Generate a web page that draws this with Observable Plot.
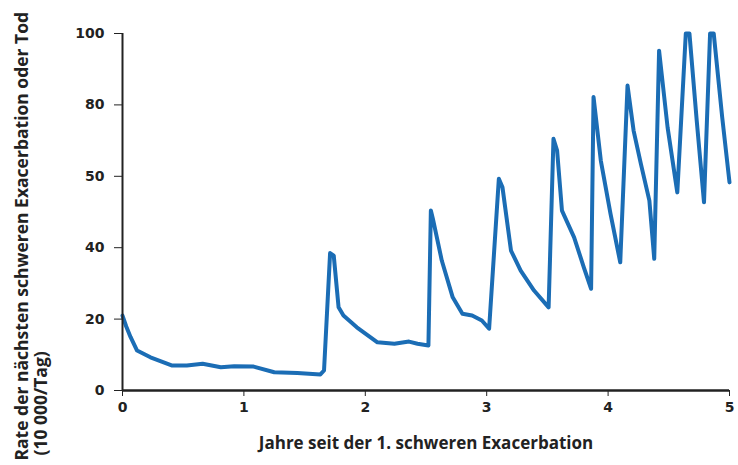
<!DOCTYPE html>
<html><head><meta charset="utf-8">
<script src="https://cdn.jsdelivr.net/npm/d3@7"></script>
<script src="https://cdn.jsdelivr.net/npm/@observablehq/plot@0.6"></script>
</head><body style="margin:0;background:#fff"><div id="chart"></div>
<script>
const years = [0.00,0.03,0.066,0.12,0.23,0.41,0.53,0.66,0.81,0.92,1.08,1.25,1.44,1.63,1.66,1.71,1.74,1.78,1.82,1.93,2.10,2.24,2.36,2.43,2.52,2.54,2.56,2.63,2.72,2.80,2.88,2.96,3.02,3.10,3.13,3.20,3.28,3.39,3.51,3.55,3.58,3.62,3.72,3.80,3.86,3.88,3.94,4.02,4.10,4.16,4.21,4.27,4.34,4.38,4.42,4.49,4.57,4.64,4.67,4.73,4.79,4.84,4.87,4.94,5.00];
const rate = [21,18,15,11.2,9.3,7,7,7.5,6.5,6.8,6.7,5.1,4.9,4.5,5.6,38.5,37.8,23.3,21,17.7,13.5,13.1,13.7,13.1,12.6,50.4,47.6,36.4,26.1,21.5,21,19.6,17.3,59.3,56.9,39.2,33.6,28,23.3,70.5,67.2,50.4,42.9,34.5,28.5,82.2,64.4,49.5,35.9,85.4,72.8,63.5,53.2,36.9,95.2,73.7,55.5,100,100,75.6,52.7,100,100,76.5,58.3];
const yTicks = [0,20,40,60,80,100];
const yTickLabels = ["0","20","40","50","80","100"];
const xTicks = [0,1,2,3,4,5];
const xTitle = "Jahre seit der 1. schweren Exacerbation";
const yTitle1 = "Rate der nächsten schweren Exacerbation oder Tod";
const yTitle2 = "(10 000/Tag)";

const data = years.map((x,i)=>({x, y: rate[i]}));

const chart = Plot.plot({
  width: 738, height: 465,
  marginLeft: 122, marginRight: 9, marginTop: 33, marginBottom: 75,
  style: {fontFamily: "DejaVu Sans", fontSize: "14px", fontWeight: "bold", color: "#222"},
  x: {domain: [0,5], ticks: xTicks, tickFormat: d => String(d), tickSize: 6, tickPadding: 6, label: null},
  y: {domain: [0,100], ticks: yTicks, tickFormat: d => yTickLabels[yTicks.indexOf(d)], tickSize: 8, tickPadding: 10, label: null},
  marks: [
    Plot.line(data, {x: "x", y: "y", stroke: "#1b6db5", strokeWidth: 4, strokeLinejoin: "round", strokeLinecap: "round"}),
    Plot.ruleX([0], {y1: 0, y2: 100, stroke: "currentColor", strokeWidth: 2}),
    Plot.ruleY([0], {stroke: "currentColor", strokeWidth: 2.5}),
    Plot.text([xTitle], {frameAnchor: "bottom", dy: 58, fontFamily: "Open Sans", fontWeight: "bold", fontSize: 17, fill: "#222"}),
    Plot.text([yTitle1], {frameAnchor: "bottom-left", rotate: -90, textAnchor: "start", lineAnchor: "bottom", dx: -95, dy: 70, fontFamily: "Open Sans", fontWeight: "bold", fontSize: 17.5, fill: "#222"}),
    Plot.text([yTitle2], {frameAnchor: "bottom-left", rotate: -90, textAnchor: "start", lineAnchor: "bottom", dx: -76, dy: 65, fontFamily: "Open Sans", fontWeight: "bold", fontSize: 17.5, fill: "#222"})
  ]
});
document.getElementById("chart").appendChild(chart);
</script></body></html>
